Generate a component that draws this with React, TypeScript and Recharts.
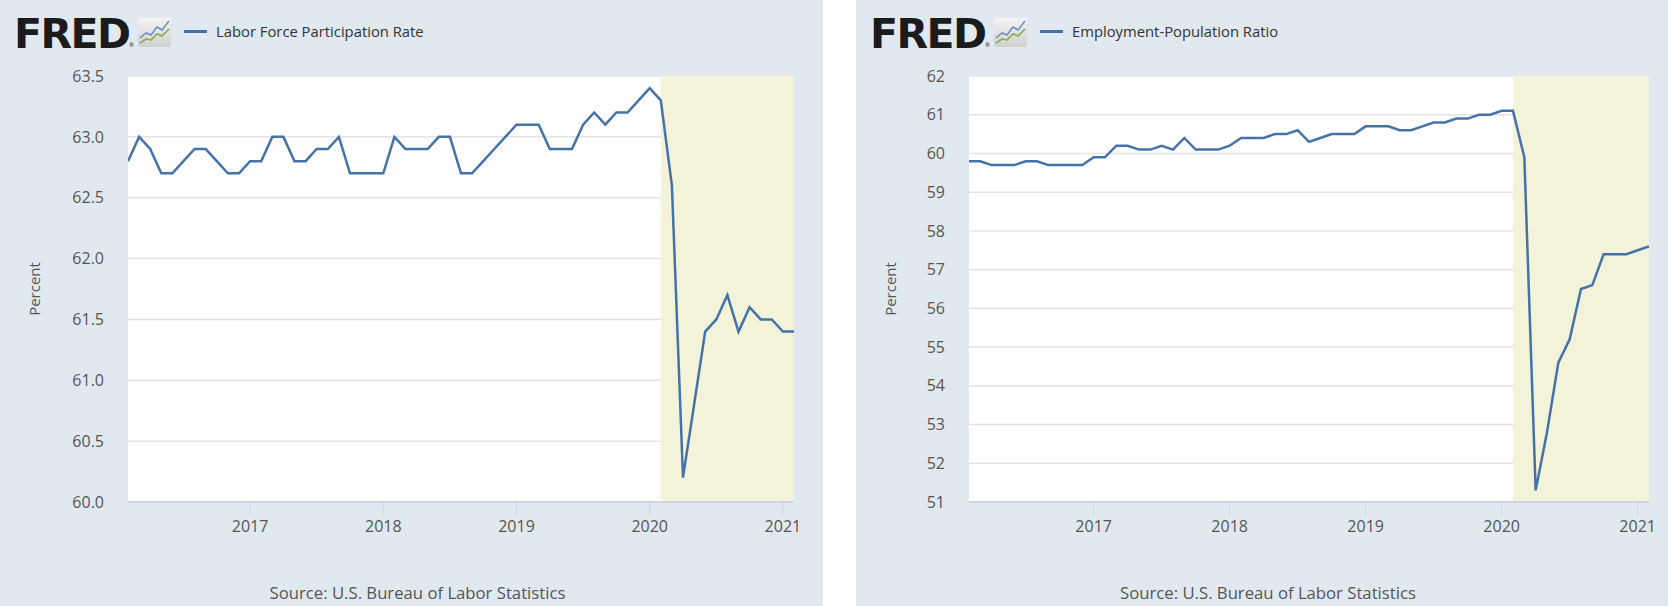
import React from "react";
import {
  LineChart, Line, XAxis, YAxis, CartesianGrid, ReferenceArea,
} from "recharts";

// monthly values, Feb 2016 .. Feb 2021
const LFPR = [
  62.8, 63.0, 62.9, 62.7, 62.7, 62.8, 62.9, 62.9, 62.8, 62.7, 62.7,
  62.8, 62.8, 63.0, 63.0, 62.8, 62.8, 62.9, 62.9, 63.0, 62.7, 62.7, 62.7,
  62.7, 63.0, 62.9, 62.9, 62.9, 63.0, 63.0, 62.7, 62.7, 62.8, 62.9, 63.0,
  63.1, 63.1, 63.1, 62.9, 62.9, 62.9, 63.1, 63.2, 63.1, 63.2, 63.2, 63.3,
  63.4, 63.3, 62.6, 60.2, 60.8, 61.4, 61.5, 61.7, 61.4, 61.6, 61.5, 61.5,
  61.4, 61.4,
];
const EPOP = [
  59.8, 59.8, 59.7, 59.7, 59.7, 59.8, 59.8, 59.7, 59.7, 59.7, 59.7,
  59.9, 59.9, 60.2, 60.2, 60.1, 60.1, 60.2, 60.1, 60.4, 60.1, 60.1, 60.1,
  60.2, 60.4, 60.4, 60.4, 60.5, 60.5, 60.6, 60.3, 60.4, 60.5, 60.5, 60.5,
  60.7, 60.7, 60.7, 60.6, 60.6, 60.7, 60.8, 60.8, 60.9, 60.9, 61.0, 61.0,
  61.1, 61.1, 59.9, 51.3, 52.8, 54.6, 55.2, 56.5, 56.6, 57.4, 57.4, 57.4,
  57.5, 57.6,
];
const START_YEAR = 2016;
const START_MONTH = 2;
const YEAR_TICKS = [2017, 2018, 2019, 2020, 2021];
const LFPR_TICKS = [60, 60.5, 61, 61.5, 62, 62.5, 63, 63.5];
const EPOP_TICKS = [51, 52, 53, 54, 55, 56, 57, 58, 59, 60, 61, 62];
const RECESSION_START = 2020 + 1 / 12;

const monthTime = (i: number) => START_YEAR + (START_MONTH - 1 + i) / 12;
const toRows = (vals: number[]) => vals.map((v, i) => ({ t: monthTime(i), v }));

const FONT = "'Open Sans', sans-serif";
const PANEL_BG = "#e1e9f0";
const LINE = "#4572a7";
const TEXT = "#555";

function FredLogo() {
  return (
    <>
      <div style={{
        position: "absolute", left: 14, top: 14, fontFamily: "'DejaVu Sans', sans-serif", fontWeight: 700,
        fontSize: 41, color: "#1b1b1b", lineHeight: "41px", letterSpacing: -1.5,
      }}>
        FRED
      </div>
      <span style={{ position: "absolute", left: 129, top: 41, fontFamily: FONT, fontSize: 6, lineHeight: "8px", color: "#1b1b1b" }}>®</span>
      <svg width={33} height={29} style={{ position: "absolute", left: 138, top: 18 }}>
        <defs>
          <linearGradient id="ic" x1="0" y1="0" x2="0" y2="1">
            <stop offset="0" stopColor="#f4f4f4" />
            <stop offset="1" stopColor="#cfcfcf" />
          </linearGradient>
        </defs>
        <rect x={0} y={0} width={33} height={29} rx={2} fill="url(#ic)" />
        <polyline points="2,20 8,15 13,17 19,9 24,12 31,3" fill="none" stroke="#6d8fbf" strokeWidth={1.6} />
        <polyline points="2,25 8,21 13,22 19,16 24,18 31,11" fill="none" stroke="#7fae4a" strokeWidth={1.6} />
      </svg>
    </>
  );
}

function Panel({ left, width, title, data, ticks, domain, fmt, yWidth, right }: {
  left: number; width: number; title: string; data: { t: number; v: number }[];
  ticks: number[]; domain: [number, number]; fmt: (v: number) => string; yWidth: number; right: number;
}) {
  const end = monthTime(data.length - 1);
  return (
    <div style={{ position: "absolute", left, top: 0, width, height: 606, background: PANEL_BG }}>
      <FredLogo />
      <div style={{ position: "absolute", left: 184, top: 30, width: 23, height: 3, background: LINE }} />
      <div style={{ position: "absolute", left: 216, top: 20, fontFamily: FONT, fontSize: 14.8, color: "#333", lineHeight: "22px" }}>
        {title}
      </div>
      <div style={{
        position: "absolute", left: 34, top: 289, fontFamily: FONT, fontSize: 15, color: TEXT,
        transform: "translate(-50%, -50%) rotate(-90deg)", whiteSpace: "nowrap",
      }}>
        Percent
      </div>
      <div style={{
        position: "absolute", left: 0, width: width + 12, top: 580, textAlign: "center",
        fontFamily: FONT, fontSize: 16.7, color: TEXT, lineHeight: "26px",
      }}>
        Source: U.S. Bureau of Labor Statistics
      </div>
      <div style={{ position: "absolute", left: 0, top: 0 }}>
        <LineChart width={width} height={606} data={data} margin={{ top: 76, right, bottom: 0, left: 0 }}>
          <CartesianGrid horizontal={false} vertical={false} fill="#fff" fillOpacity={1} />
          <ReferenceArea x1={RECESSION_START} x2={end} fill="#f3f3da" fillOpacity={1} stroke="none" ifOverflow="hidden" />
          <CartesianGrid vertical={false} stroke="#e3e3e3" strokeWidth={1.5} />
          <XAxis
            dataKey="t"
            type="number"
            domain={[monthTime(0), end]}
            ticks={YEAR_TICKS}
            allowDataOverflow
            height={104}
            tickFormatter={(v: number) => String(Math.round(v))}
            tick={{ fontSize: 16, fill: TEXT, fontFamily: FONT }}
            axisLine={{ stroke: "#ccd6eb", strokeWidth: 2 }}
            tickLine={{ stroke: "#ccd6eb" }}
            tickSize={13}
            tickMargin={6}
          />
          <YAxis
            type="number"
            domain={domain}
            ticks={ticks}
            width={yWidth}
            allowDataOverflow
            axisLine={false}
            tickLine={false}
            tickSize={6}
            tickMargin={18}
            tickFormatter={fmt}
            tick={{ fontSize: 16, fill: TEXT, fontFamily: FONT }}
          />
          <Line
            type="linear"
            dataKey="v"
            stroke={LINE}
            strokeWidth={2.5}
            dot={false}
            activeDot={false}
            isAnimationActive={false}
          />
        </LineChart>
      </div>
    </div>
  );
}

export default function App() {
  return (
    <div style={{ position: "absolute", left: 0, top: 0, width: 1668, height: 606, background: "#fff", overflow: "hidden" }}>
      <Panel
        left={0}
        width={823}
        title="Labor Force Participation Rate"
        data={toRows(LFPR)}
        ticks={LFPR_TICKS}
        domain={[60, 63.5]}
        fmt={(v) => v.toFixed(1)}
        yWidth={128}
        right={29}
      />
      <Panel
        left={856}
        width={812}
        title="Employment-Population Ratio"
        data={toRows(EPOP)}
        ticks={EPOP_TICKS}
        domain={[51, 62]}
        fmt={(v) => String(v)}
        yWidth={113}
        right={19}
      />
    </div>
  );
}
